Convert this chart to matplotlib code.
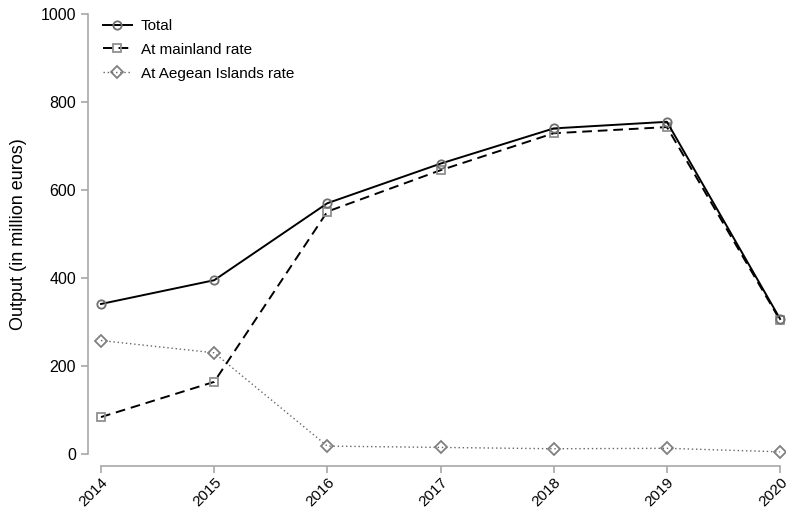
import matplotlib.pyplot as plt

plt.rcParams['font.family'] = ['Liberation Sans', 'DejaVu Sans']

years = [2014, 2015, 2016, 2017, 2018, 2019, 2020]
total = [341, 395, 570, 660, 740, 755, 307]
mainland = [84, 164, 551, 645, 729, 743, 304]
aegean = [258, 230, 18, 15, 12, 13, 5]

AX_C = "#a8a8a8"

fig = plt.figure(figsize=(7.86, 5.09), dpi=100)
ax = fig.add_axes([0.1285, 0.108, 0.864, 0.8645])

ax.plot(years, total, color='black', lw=1.4, ls='-', marker='o', ms=6,
        mfc='none', mec='#707070', mew=1.3, clip_on=False, zorder=4, label='Total')
ax.plot(years, mainland, color='black', lw=1.4, ls=(0, (5, 3)), marker='s', ms=6,
        mfc='none', mec='#909090', mew=1.3, clip_on=False, zorder=3,
        label='At mainland rate')
ax.plot(years, aegean, color='#666666', lw=1.0, ls=(0, (1, 2)), marker='D', ms=6,
        mfc='none', mec='#808080', mew=1.3, clip_on=False, zorder=2,
        label='At Aegean Islands rate')

ax.set_xlim(2014, 2020)
ax.set_ylim(0, 1000)
ax.set_xticks(years)
ax.set_yticks([0, 200, 400, 600, 800, 1000])
ax.set_ylabel('Output (in million euros)', fontsize=13, labelpad=10)

for s in ['top', 'right']:
    ax.spines[s].set_visible(False)
ax.spines['left'].set_position(('outward', 9.4))
ax.spines['bottom'].set_position(('outward', 8.6))
for s in ['left', 'bottom']:
    ax.spines[s].set_color(AX_C)
    ax.spines[s].set_linewidth(1.2)
ax.tick_params(colors=AX_C, labelcolor='black', labelsize=11.5, length=5, width=1.2)
ax.tick_params(axis='x', labelsize=11, pad=1.5)
ax.set_xticklabels([str(y) for y in years])
for lbl in ax.get_xticklabels():
    lbl.set_rotation(45)
    lbl.set_ha('right')
    lbl.set_rotation_mode('anchor')

ax.legend(loc='upper left', bbox_to_anchor=(-0.018, 1.02), frameon=False,
          fontsize=11, handlelength=1.9, labelspacing=0.64, handletextpad=0.6)

fig.savefig('out.png', dpi=100)
